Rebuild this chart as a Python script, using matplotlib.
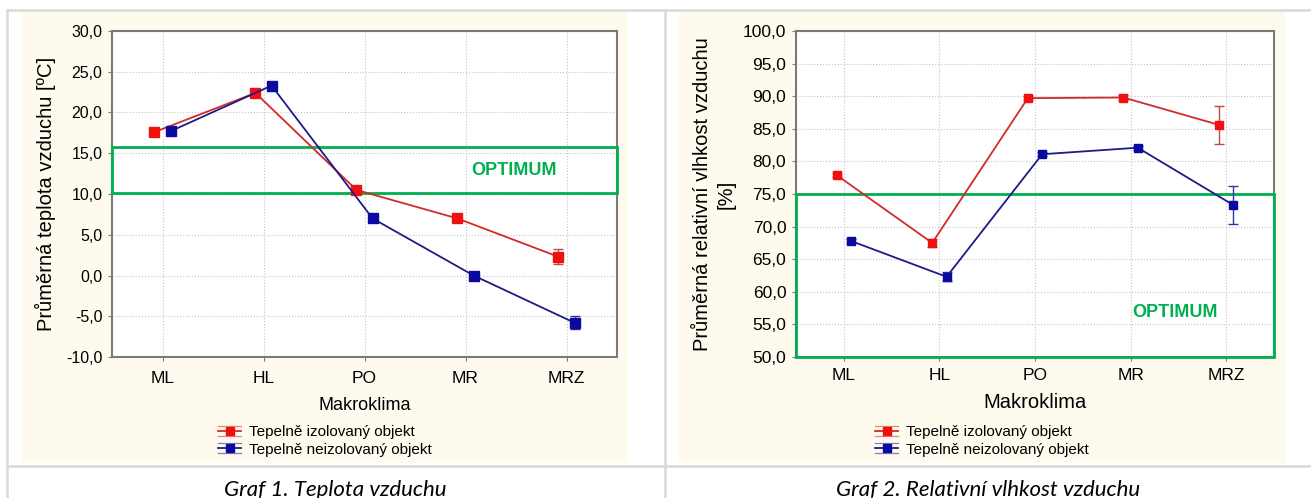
import numpy as np
import matplotlib.pyplot as plt
from matplotlib.patches import Rectangle
from matplotlib.lines import Line2D
from matplotlib.legend_handler import HandlerBase
from matplotlib.ticker import FuncFormatter

# ---- data ----
categories = ['ML', 'HL', 'PO', 'MR', 'MRZ']
series_labels = ['Tepelně izolovaný objekt', 'Tepelně neizolovaný objekt']

temp_izol = [17.6, 22.4, 10.5, 7.0, 2.3]
temp_izol_err = [0.3, 0.3, 0.3, 0.3, 0.9]
temp_neizol = [17.7, 23.3, 7.0, 0.0, -5.8]
temp_neizol_err = [0.3, 0.3, 0.3, 0.3, 0.8]
temp_optimum = (10.1, 15.75)

vlh_izol = [77.9, 67.5, 89.7, 89.8, 85.6]
vlh_izol_err = [0.3, 0.6, 0.3, 0.4, 2.9]
vlh_neizol = [67.8, 62.3, 81.1, 82.1, 73.3]
vlh_neizol_err = [0.3, 0.7, 0.3, 0.3, 2.9]
vlh_optimum = (50.0, 75.0)

captions = ['Graf 1. Teplota vzduchu', 'Graf 2. Relativní vlhkost vzduchu']

# ---- style ----
plt.rcParams['font.family'] = ['Liberation Sans', 'DejaVu Sans']
W, H = 1311, 498
BEIGE = '#fefaee'
BORDER = '#d9d9d9'
GREEN = '#00b050'
RED_LINE, RED_MK = '#d22a2a', '#f01010'
BLUE_LINE, BLUE_MK = '#1c1c84', '#0a0aa0'
SPINE = '#7a7a7a'


def fx(px):
    return px / W


def fy(py):
    return 1 - py / H


class ErrorHandle(HandlerBase):
    def create_artists(self, legend, orig_handle, xdescent, ydescent,
                       width, height, fontsize, trans):
        c = orig_handle.get_color()
        x0, x1 = -xdescent, -xdescent + width
        yc = -ydescent + height / 2
        arts = []
        for dy, lw, a in ((0.45, 0.9, 0.55), (0, 1.3, 1), (-0.45, 0.9, 0.55)):
            arts.append(Line2D([x0, x1], [yc + dy * height] * 2, color=c,
                               lw=lw, alpha=a, transform=trans))
        arts.append(Line2D([(x0 + x1) / 2], [yc], marker='s', ms=6,
                           color=orig_handle.get_markerfacecolor(), ls='none',
                           transform=trans))
        return arts


comma = FuncFormatter(lambda v, p: f'{v:.1f}'.replace('.', ','))

fig = plt.figure(figsize=(W / 100, H / 100), dpi=100)

# table look: beige chart panels and grey cell borders
for x0, x1 in ((22, 628), (679, 1285)):
    fig.add_artist(Rectangle((fx(x0), fy(463)), fx(x1) - fx(x0), fy(11) - fy(463),
                             transform=fig.transFigure, facecolor=BEIGE,
                             edgecolor='none', zorder=-2))
for xs, ys in (([7, W], [10, 10]), ([7, W], [466, 466]),
               ([7, 7], [10, H]), ([664.5, 664.5], [10, H])):
    fig.add_artist(Line2D([fx(v) for v in xs], [fy(v) for v in ys],
                          transform=fig.transFigure, color=BORDER, lw=1.8, zorder=-1))

panels = [
    dict(rect=(112, 617), ylim=(-10, 30), izol=temp_izol, izol_err=temp_izol_err,
         neizol=temp_neizol, neizol_err=temp_neizol_err, opt=temp_optimum,
         opt_text=(3.48, 12.9), ylabel='Průměrná teplota vzduchu [ºC]', ylabel_x=45,
         ytick=11.5, xtick=12.5, xlab=13, xpad=7, xlab_top=397, off=0.08,
         legend_x=325, caption_x=335, ms=6.5),
    dict(rect=(796, 1274), ylim=(50, 100), izol=vlh_izol, izol_err=vlh_izol_err,
         neizol=vlh_neizol, neizol_err=vlh_neizol_err, opt=vlh_optimum,
         opt_text=(3.46, 56.9), ylabel='Průměrná relativní vlhkost vzduchu\n[%]',
         ylabel_x=714, ytick=12.5, xtick=12.5, xlab=14.5, xpad=5, xlab_top=393,
         off=0.075, legend_x=982, caption_x=988, ms=6),
]

x = np.arange(len(categories))

for i, p in enumerate(panels):
    l, r = p['rect']
    ax = fig.add_axes([fx(l), fy(357), fx(r) - fx(l), fy(31) - fy(357)])
    ax.set_xlim(-0.5, len(categories) - 0.5)
    ax.set_ylim(*p['ylim'])
    ax.set_yticks(np.arange(p['ylim'][0], p['ylim'][1] + 0.1, 5))
    ax.yaxis.set_major_formatter(comma)
    ax.set_xticks(x)
    ax.set_xticklabels(categories)
    ax.grid(True, color='#c4c4c4', ls=':', lw=0.8)
    ax.set_axisbelow(True)
    for s in ax.spines.values():
        s.set_color(SPINE)
        s.set_linewidth(1.5)
    ax.tick_params(axis='y', labelsize=p['ytick'], length=3, color=SPINE, pad=4)
    ax.tick_params(axis='x', labelsize=p['xtick'], length=3, color=SPINE, pad=p['xpad'])

    lo, hi = p['opt']
    ax.add_patch(Rectangle((-0.5, lo), len(categories), hi - lo, fill=False,
                           edgecolor=GREEN, lw=2, zorder=2.8, clip_on=False))
    ax.text(*p['opt_text'], 'OPTIMUM', color=GREEN, fontsize=13, fontweight='bold',
            ha='center', va='center')

    ax.errorbar(x - p['off'], p['izol'], yerr=p['izol_err'], color=RED_LINE, lw=1.3,
                marker='s', ms=p['ms'], mfc=RED_MK, mec=RED_MK, ecolor='#c04848',
                elinewidth=1, capsize=3.5, zorder=3)
    ax.errorbar(x + p['off'], p['neizol'], yerr=p['neizol_err'], color=BLUE_LINE, lw=1.3,
                marker='s', ms=p['ms'], mfc=BLUE_MK, mec=BLUE_MK, ecolor='#34349a',
                elinewidth=1, capsize=3.5, zorder=4)

    ax.set_xlabel('Makroklima', fontsize=p['xlab'])
    ax.xaxis.set_label_coords(0.5, (357 - p['xlab_top']) / 326)

    fig.text(fx(p['ylabel_x']), fy(194), p['ylabel'], rotation=90, ha='center',
             va='center', multialignment='center', fontsize=14.5, linespacing=1.3)

    handles = [Line2D([], [], color=RED_LINE, mfc=RED_MK),
               Line2D([], [], color=BLUE_LINE, mfc=BLUE_MK)]
    ax.legend(handles, series_labels, loc='center',
              bbox_to_anchor=(fx(p['legend_x']), fy(441)), bbox_transform=fig.transFigure,
              frameon=False, fontsize=11, handlelength=1.5, handletextpad=0.5,
              labelspacing=0.2, handler_map={Line2D: ErrorHandle()})

    fig.text(fx(p['caption_x']), fy(496), captions[i], family='Lato', style='italic',
             fontsize=16, ha='center', va='baseline')

fig.savefig('out.png', dpi=100)
